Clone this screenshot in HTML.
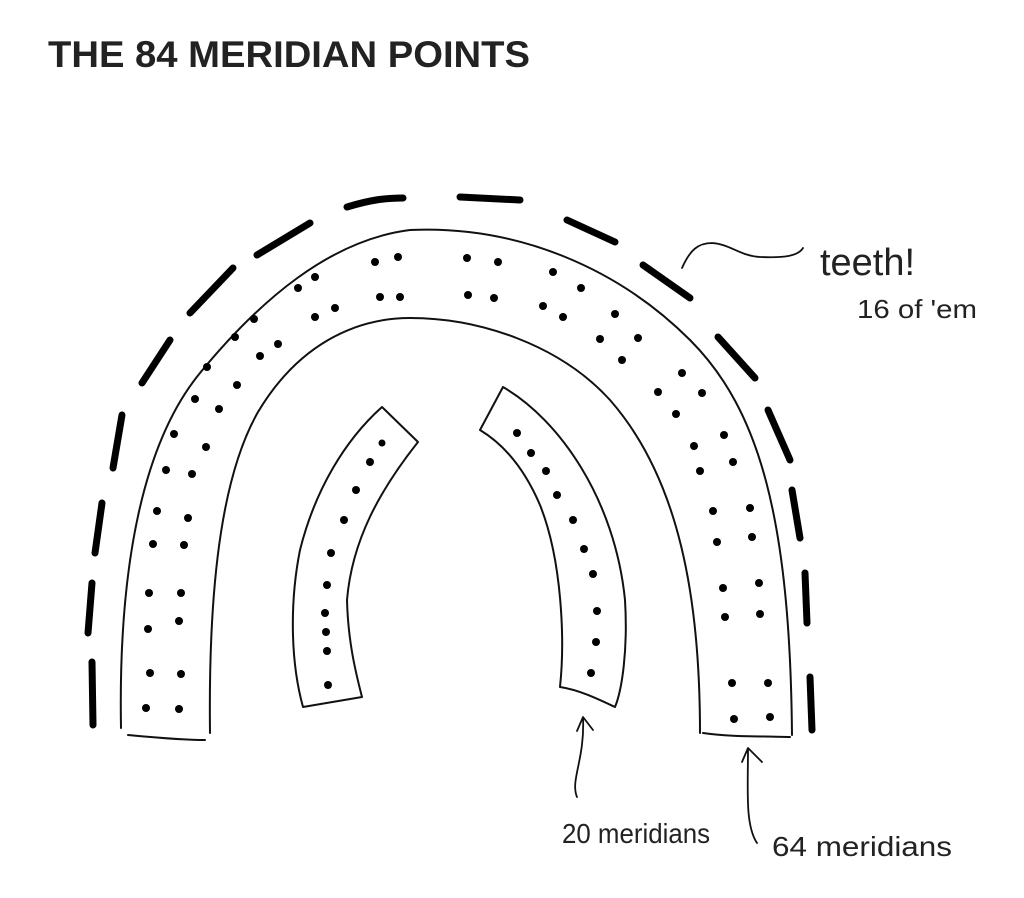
<!DOCTYPE html>
<html><head><meta charset="utf-8"><style>
html,body{margin:0;padding:0;background:#fff;}
svg{display:block;}
</style></head><body>
<svg width="1024" height="898" viewBox="0 0 1024 898" xmlns="http://www.w3.org/2000/svg">
<rect width="1024" height="898" fill="#fff"/>
<text x="48" y="67" font-family="Liberation Sans, sans-serif" font-weight="bold" font-size="37" fill="#222" textLength="482" lengthAdjust="spacingAndGlyphs">THE 84 MERIDIAN POINTS</text>

<g fill="none" stroke="#111" stroke-width="2" stroke-linecap="round" stroke-linejoin="round">
<path d="M121,728 C118,560 145,440 200,373 C260,300 330,240 410,230 C520,225 620,270 690,340 C760,410 790,520 792,735"/>
<path d="M210,733 C208,570 225,470 258,412 C298,345 355,318 410,318 C480,318 560,345 610,400 C680,480 700,600 700,733"/>
<path d="M128,735 C150,737 180,740 205,740"/>
<path d="M703,733 C730,737 760,736 790,737"/>
<path d="M382,407 L418,442 C380,490 352,540 347,600 C348,640 355,670 362,697 L303,707 C290,660 290,600 300,550 C315,490 345,440 382,407 Z"/>
<path d="M480,430 L503,387 C560,420 615,500 625,600 C628,650 622,690 615,707 C600,700 580,690 560,687 C565,640 562,560 540,505 C525,470 505,445 480,430 Z"/>
<path d="M682,268 C690,250 698,243 712,243 C730,244 740,256 760,257 C785,258 798,256 803,248" stroke-width="1.8"/>
<path d="M577,797 C570,780 585,760 583,717 M577,731 L583,717 L593,730" stroke-width="1.8"/>
<path d="M757,843 C745,825 748,790 748,748 M742,762 L748,748 L762,762" stroke-width="1.8"/>
</g>

<g fill="none" stroke="#000" stroke-width="7" stroke-linecap="round">
<path d="M93,725 L92,662"/>
<path d="M88,633 L92,583"/>
<path d="M95,553 L102,503"/>
<path d="M113,468 L122,415"/>
<path d="M142,383 L170,340"/>
<path d="M190,313 L233,268"/>
<path d="M257,255 L310,223"/>
<path d="M347,207 C370,200 385,198 403,198"/>
<path d="M460,197 L520,200"/>
<path d="M567,220 L615,242"/>
<path d="M643,265 L690,298"/>
<path d="M718,337 L755,378"/>
<path d="M768,410 L790,460"/>
<path d="M792,490 L800,538"/>
<path d="M805,573 L807,623"/>
<path d="M810,677 L812,730"/>
</g>

<g fill="#000">
<circle cx="146" cy="708" r="4"/><circle cx="179" cy="709" r="4"/>
<circle cx="150" cy="673" r="4"/><circle cx="181" cy="674" r="4"/>
<circle cx="148" cy="629" r="4"/><circle cx="179" cy="621" r="4"/>
<circle cx="149" cy="593" r="4"/><circle cx="181" cy="593" r="4"/>
<circle cx="153" cy="544" r="4"/><circle cx="184" cy="545" r="4"/>
<circle cx="157" cy="511" r="4"/><circle cx="188" cy="518" r="4"/>
<circle cx="166" cy="470" r="4"/><circle cx="192" cy="474" r="4"/>
<circle cx="174" cy="434" r="4"/><circle cx="206" cy="447" r="4"/>
<circle cx="195" cy="399" r="4"/><circle cx="219" cy="409" r="4"/>
<circle cx="207" cy="367" r="4"/><circle cx="237" cy="385" r="4"/>
<circle cx="254" cy="319" r="4"/><circle cx="235" cy="337" r="4"/>
<circle cx="278" cy="344" r="4"/><circle cx="260" cy="356" r="4"/>
<circle cx="315" cy="277" r="4"/><circle cx="298" cy="288" r="4"/>
<circle cx="335" cy="308" r="4"/><circle cx="315" cy="317" r="4"/>
<circle cx="375" cy="262" r="4"/><circle cx="398" cy="257" r="4"/>
<circle cx="380" cy="297" r="4"/><circle cx="400" cy="297" r="4"/>
<circle cx="467" cy="258" r="4"/><circle cx="498" cy="262" r="4"/>
<circle cx="468" cy="295" r="4"/><circle cx="494" cy="298" r="4"/>
<circle cx="553" cy="272" r="4"/><circle cx="581" cy="288" r="4"/>
<circle cx="543" cy="306" r="4"/><circle cx="563" cy="317" r="4"/>
<circle cx="615" cy="314" r="4"/><circle cx="600" cy="339" r="4"/>
<circle cx="638" cy="338" r="4"/><circle cx="622" cy="360" r="4"/>
<circle cx="682" cy="373" r="4"/><circle cx="658" cy="392" r="4"/>
<circle cx="702" cy="393" r="4"/><circle cx="676" cy="414" r="4"/>
<circle cx="694" cy="446" r="4"/><circle cx="724" cy="435" r="4"/>
<circle cx="700" cy="471" r="4"/><circle cx="733" cy="462" r="4"/>
<circle cx="713" cy="511" r="4"/><circle cx="750" cy="508" r="4"/>
<circle cx="717" cy="542" r="4"/><circle cx="752" cy="537" r="4"/>
<circle cx="723" cy="588" r="4"/><circle cx="759" cy="583" r="4"/>
<circle cx="725" cy="617" r="4"/><circle cx="760" cy="614" r="4"/>
<circle cx="732" cy="683" r="4"/><circle cx="768" cy="683" r="4"/>
<circle cx="734" cy="719" r="4"/><circle cx="770" cy="717" r="4"/>
<circle cx="382" cy="443" r="3.5"/><circle cx="370" cy="462" r="4"/><circle cx="356" cy="490" r="4"/><circle cx="344" cy="520" r="4"/><circle cx="331" cy="553" r="4"/><circle cx="327" cy="585" r="4"/><circle cx="325" cy="613" r="4"/><circle cx="326" cy="632" r="4"/><circle cx="327" cy="651" r="4"/><circle cx="328" cy="685" r="4"/>
<circle cx="517" cy="433" r="4"/><circle cx="531" cy="453" r="4"/><circle cx="546" cy="471" r="4"/><circle cx="557" cy="495" r="4"/><circle cx="573" cy="520" r="4"/><circle cx="584" cy="549" r="4"/><circle cx="593" cy="574" r="4"/><circle cx="597" cy="611" r="4"/><circle cx="596" cy="642" r="4"/><circle cx="591" cy="673" r="4"/>
</g>

<g font-family="Liberation Sans, sans-serif" fill="#222">
<text x="820" y="275" font-size="38" textLength="95" lengthAdjust="spacingAndGlyphs">teeth!</text>
<text x="857" y="318" font-size="26" textLength="120" lengthAdjust="spacingAndGlyphs">16 of 'em</text>
<text x="562" y="843" font-size="28" textLength="148" lengthAdjust="spacingAndGlyphs">20 meridians</text>
<text x="772" y="856" font-size="28" textLength="180" lengthAdjust="spacingAndGlyphs">64 meridians</text>
</g>
</svg>
</body></html>
